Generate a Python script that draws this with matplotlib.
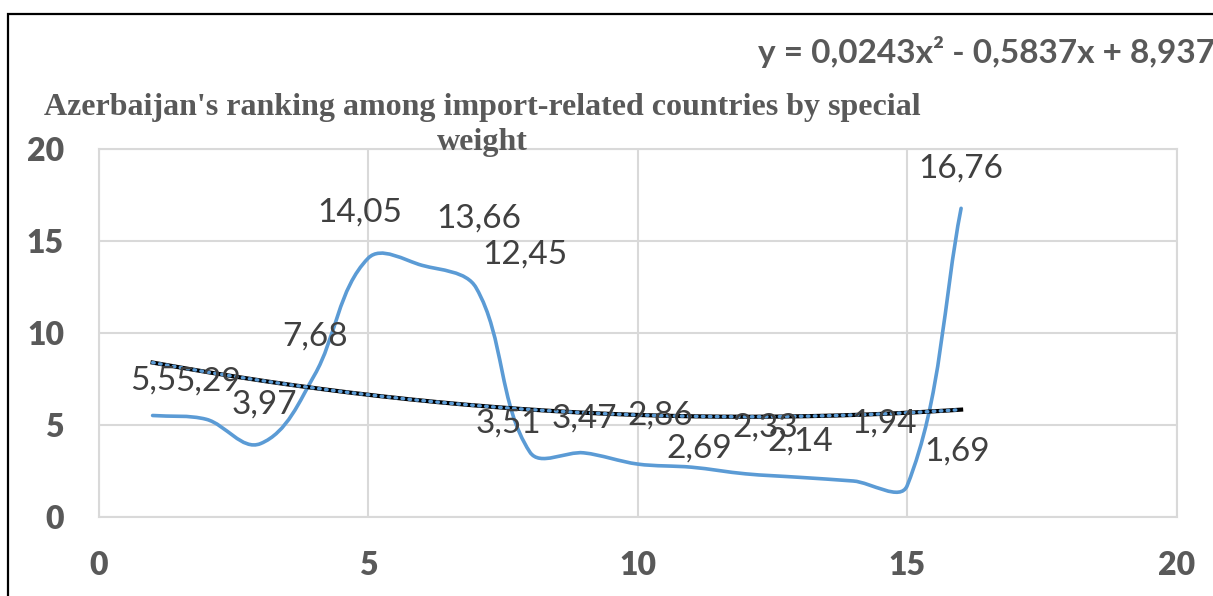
import matplotlib
matplotlib.use("Agg")
import matplotlib.pyplot as plt
import numpy as np
from matplotlib.path import Path
from matplotlib.patches import PathPatch, Rectangle

# ---- data ----
x_vals = [1, 2, 3, 4, 5, 6, 7, 8, 9, 10, 11, 12, 13, 14, 15, 16]
y_vals = [5.5, 5.29, 3.97, 7.68, 14.05, 13.66, 12.45, 3.51, 3.47, 2.86,
          2.69, 2.33, 2.14, 1.94, 1.69, 16.76]
trend_coef = [0.0243, -0.5837, 8.937]
title_lines = ["Azerbaijan's ranking among import-related countries by special",
               "weight"]
equation = "y = 0,0243x² - 0,5837x + 8,937"
ticks = [0, 5, 10, 15, 20]

# label offsets in pixels (dx, dy up)
lab_dx = [1, 2, 4, 1, -8, 57, 49, -22, 1, 23, 8, 20, 1, 31, 50, 0]
lab_dy = [35, 38, 39, 39, 46, 47, 33, 29, 34, 49, 19, 46, 36, 57, 34, 40]

W, H = 1213, 596
fig = plt.figure(figsize=(W / 100, H / 100), dpi=100)
ax = fig.add_axes([98.7 / W, 1 - 516.7 / H, (1176.7 - 98.7) / W, (516.7 - 148.7) / H])

grid_c = "#d9d9d9"
txt_c = "#595959"

ax.set_xlim(0, 20)
ax.set_ylim(0, 20)
ax.set_xticks(ticks)
ax.set_yticks(ticks)
ax.grid(True, color=grid_c, linewidth=1.5)
ax.set_axisbelow(True)
for s in ax.spines.values():
    s.set_color(grid_c)
    s.set_linewidth(1.5)
ax.tick_params(length=0, pad=25, labelsize=23, labelcolor=txt_c)
for lab in ax.get_xticklabels() + ax.get_yticklabels():
    lab.set_fontfamily("Lato")
    lab.set_fontweight("heavy")

# smoothed series (Excel-like bezier, tangents scaled by screen chord length)
bb = ax.get_window_extent()
kx = bb.width / 20.0
ky = bb.height / 20.0
P = np.column_stack([np.array(x_vals, float) * kx, np.array(y_vals, float) * ky])
n = len(P)
T = []
for i in range(n):
    d = P[min(i + 1, n - 1)] - P[max(i - 1, 0)]
    T.append(d / np.linalg.norm(d))
T = np.array(T)
verts = [(x_vals[0], y_vals[0])]
codes = [Path.MOVETO]
for i in range(n - 1):
    seg = np.linalg.norm(P[i + 1] - P[i]) / 3.0
    c1 = P[i] + T[i] * seg
    c2 = P[i + 1] - T[i + 1] * seg
    for c in (c1, c2, P[i + 1]):
        verts.append((c[0] / kx, c[1] / ky))
    codes += [Path.CURVE4] * 3
ax.add_patch(PathPatch(Path(verts, codes), facecolor="none", edgecolor="#5B9BD5",
                       linewidth=2.6, capstyle="round", joinstyle="round", zorder=3))

# trendline
tx = np.linspace(x_vals[0], x_vals[-1], 200)
ty = np.polyval(trend_coef, tx)
ax.plot(tx, ty, color="black", linewidth=3.0, zorder=4)
ax.plot(tx, ty, color="#5B9BD5", linewidth=2.4, linestyle=(0, (0.5, 1.6)),
        dash_capstyle="round", zorder=5)

# data labels
for x, y, dx, dy in zip(x_vals, y_vals, lab_dx, lab_dy):
    ax.annotate(f"{y:g}".replace(".", ","), (x, y), xytext=(dx * 0.72, dy * 0.72),
                textcoords="offset points", ha="center", va="center",
                fontsize=24, color="#404040", family="Lato", zorder=6,
                annotation_clip=False)

# title (two lines)
for line, yb in zip(title_lines, [115, 150]):
    fig.text(482 / W, 1 - yb / H, line, ha="center", va="baseline", fontsize=23,
             fontweight="bold", family="Liberation Serif", color=txt_c)
# equation
fig.text(758 / W, 1 - 63 / H, equation, ha="left", va="baseline", fontsize=24,
         fontweight="bold", family="Lato", color=txt_c)

# outer border (chart frame, cut off right/bottom)
fig.patches.append(Rectangle((8.3 / W, -0.1), 1.2, 1 - 13.5 / H + 0.1,
                             transform=fig.transFigure, fill=False,
                             edgecolor="black", linewidth=1.6))

fig.savefig("out.png", dpi=100)
